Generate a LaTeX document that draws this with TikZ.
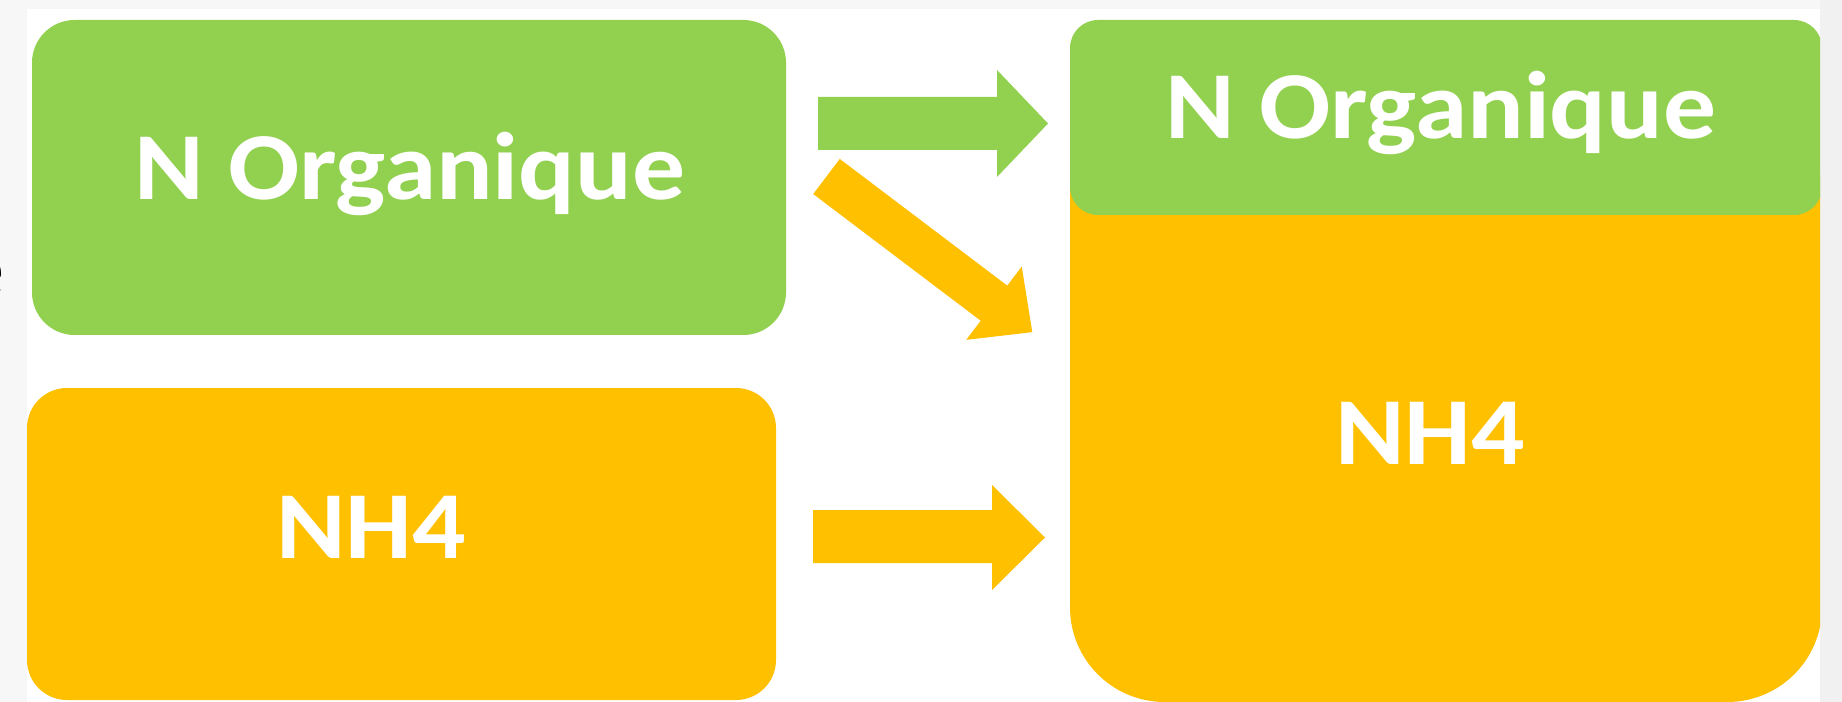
\documentclass[tikz,border=0pt]{standalone}
\usepackage{fontspec}
\newfontfamily\lblfont[FakeStretch=1.1]{Carlito}
\definecolor{ngreen}{HTML}{92D050}
\definecolor{norange}{HTML}{FFC000}
\definecolor{bgleft}{HTML}{F7F7F7}
\definecolor{bgright}{HTML}{F1F1F1}
\tikzset{
  box/.style={rounded corners=#1, inner sep=0pt, outer sep=0pt, anchor=north west},
  lbl/.style={font=\lblfont\bfseries\fontsize{72}{80}\selectfont, text=white, anchor=base, inner sep=0pt},
  blockarrow/.style={fill=#1, draw=none}
}
\begin{document}
\begin{tikzpicture}[x=0.75pt, y=-0.75pt]
  \useasboundingbox (0,0) rectangle (1842,702);
  % background
  \fill[bgleft] (0,0) rectangle (1842,702);
  \fill[bgright] (1820,0) rectangle (1842,702);
  \fill[white] (27,9) rectangle (1820,702);
  % clipped fragment of a letter at the left edge
  \node[font=\lblfont\bfseries\fontsize{62}{70}\selectfont, text=black, anchor=base east, inner sep=0pt] (frag) at (5,297) {e};
  \begin{scope}
    \clip (27,9) rectangle (1820,702);
    % left boxes
    \node[box=32pt, fill=ngreen, minimum width=754*0.75pt, minimum height=315*0.75pt] (lg) at (32,20) {};
    \node[box=30pt, fill=norange, minimum width=749*0.75pt, minimum height=312*0.75pt] (lo) at (27,388) {};
    % right box: orange part, then green part
    \fill[norange, rounded corners=71pt] (1070,100) -- (1070,702) -- (1822,702) -- (1822,100) [sharp corners] -- cycle;
    \node[box=21pt, fill=ngreen, minimum width=752*0.75pt, minimum height=195*0.75pt] (rg) at (1070,20) {};
    \coordinate (ro) at (1446,460);
  \end{scope}
  % labels
  \node[lbl] (t1) at (410,200) {N Organique};
  \node[lbl] (t2) at (1441,139) {N Organique};
  \node[lbl] (t3) at (371,558) {NH4};
  \node[lbl] (t4) at (1430,464) {NH4};
  % block arrows
  \fill[blockarrow=ngreen] (818,97) -- (997,97) -- (997,70) -- (1048,123.5) -- (997,177) -- (997,150) -- (818,150) -- cycle;
  \fill[blockarrow=norange] (813,510) -- (992,510) -- (992,485) -- (1045,537.5) -- (992,590) -- (992,563) -- (813,563) -- cycle;
  \begin{scope}[shift={(826.5,176.5)}, rotate=-37.1]
    \fill[blockarrow=norange] (0,-22) -- (210,-22) -- (210,-46) -- (258,0) -- (210,46) -- (210,22) -- (0,22) -- cycle;
  \end{scope}
\end{tikzpicture}
\end{document}
